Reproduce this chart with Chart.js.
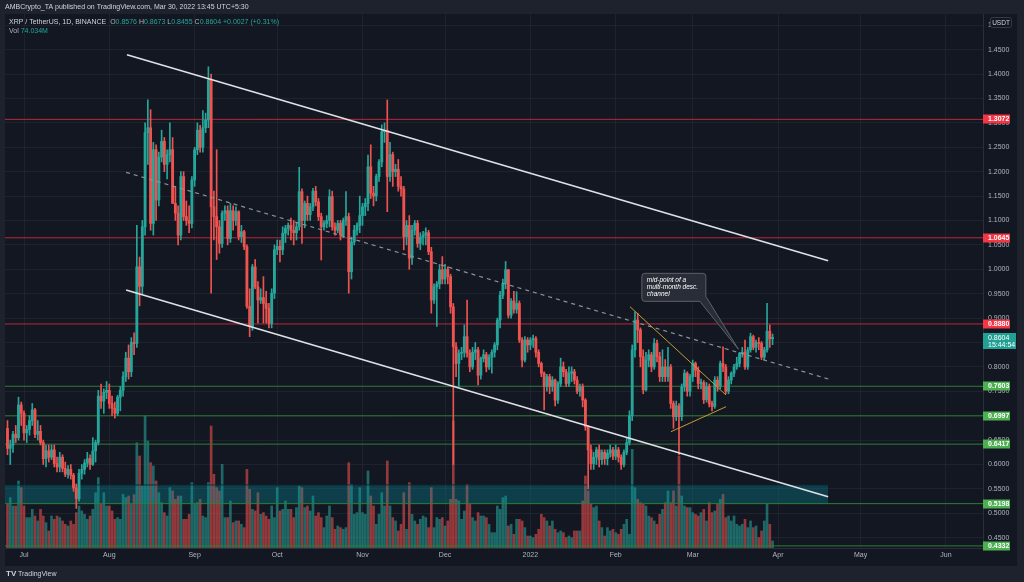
<!DOCTYPE html>
<html>
<head>
<meta charset="utf-8">
<script src="https://cdn.jsdelivr.net/npm/chart.js@4.4.0/dist/chart.umd.min.js"></script>
<style>
  html, body { margin: 0; padding: 0; background: #1e222d; }
  #wrap { width: 1024px; height: 582px; }
</style>
</head>
<body>
<div id="wrap"><canvas id="chart" width="1024" height="582"></canvas></div>
<script>
// XRP / TetherUS daily, Binance. Day 0 = 1 Jul 2021, first candle = 25 Jun 2021
// candles are [open, high, low, close]
const jun21 = [
  [.674,.690,.620,.633],[.633,.650,.600,.640],[.640,.668,.625,.662],[.662,.680,.645,.655],
  [.655,.738,.650,.722],[.722,.728,.680,.705]
];
const jul21 = [
  [.705,.710,.650,.665],[.665,.680,.645,.672],[.672,.700,.660,.690],[.690,.725,.680,.712],
  [.712,.715,.655,.662],[.662,.690,.650,.668],[.668,.680,.640,.645],[.645,.650,.600,.612],
  [.612,.640,.595,.628],[.628,.640,.605,.615],[.615,.640,.610,.630],[.630,.640,.595,.602],
  [.602,.615,.585,.595],[.595,.625,.585,.615],[.615,.620,.585,.592],[.592,.605,.575,.580],
  [.580,.598,.572,.590],[.590,.600,.570,.578],[.578,.582,.545,.552],[.552,.560,.510,.530],
  [.530,.590,.525,.582],[.582,.600,.570,.590],[.590,.610,.580,.603],[.603,.625,.595,.612],
  [.612,.620,.590,.600],[.600,.655,.598,.628],[.628,.650,.605,.645],[.645,.752,.640,.740],
  [.740,.765,.715,.730],[.730,.755,.705,.748],[.748,.770,.735,.752]
];
const aug21 = [
  [.752,.765,.715,.725],[.725,.740,.700,.715],[.715,.728,.695,.705],[.705,.742,.700,.738],
  [.738,.760,.710,.752],[.752,.790,.740,.780],[.780,.830,.770,.818],[.818,.845,.775,.790],
  [.790,.860,.780,.850],[.850,.870,.825,.848],[.848,1.090,.840,1.005],[1.005,1.025,.925,.965],
  [.965,1.100,.950,1.087],[1.087,1.300,1.070,1.280],[1.280,1.347,1.215,1.290],[1.290,1.327,1.080,1.094],
  [1.094,1.260,1.070,1.245],[1.245,1.255,1.100,1.142],[1.142,1.240,1.130,1.230],[1.230,1.285,1.220,1.262],
  [1.262,1.270,1.200,1.215],[1.215,1.245,1.185,1.235],[1.235,1.300,1.220,1.245],[1.245,1.270,1.135,1.135],
  [1.135,1.170,1.100,1.115],[1.115,1.130,1.050,1.070],[1.070,1.200,1.060,1.190],[1.190,1.200,1.100,1.108],
  [1.108,1.140,1.090,1.100],[1.100,1.130,1.075,1.094],[1.094,1.190,1.085,1.183]
];
const sep21 = [
  [1.183,1.250,1.170,1.245],[1.245,1.300,1.235,1.285],[1.285,1.295,1.240,1.250],[1.250,1.325,1.240,1.290],
  [1.290,1.320,1.280,1.306],[1.306,1.415,1.290,1.388],[1.388,1.400,.951,1.128],[1.128,1.160,1.060,1.108],
  [1.108,1.245,1.020,1.087],[1.087,1.100,1.033,1.053],[1.053,1.120,1.045,1.115],[1.115,1.130,1.100,1.120],
  [1.120,1.130,1.050,1.063],[1.063,1.135,1.055,1.120],[1.120,1.130,1.080,1.100],[1.100,1.128,1.090,1.118],
  [1.118,1.120,1.060,1.067],[1.067,1.090,1.055,1.077],[1.077,1.080,1.040,1.046],[1.046,1.050,.920,.924],
  [.924,.960,.862,.883],[.883,1.010,.875,1.005],[1.005,1.020,.960,.964],[.964,.975,.890,.937],
  [.937,.960,.930,.942],[.942,.985,.890,.930],[.930,.955,.890,.920],[.920,.930,.880,.889],
  [.889,.960,.880,.951],[.951,1.050,.940,1.040]
];
const oct21 = [
  [1.040,1.060,1.030,1.047],[1.047,1.060,1.015,1.040],[1.040,1.087,1.030,1.074],[1.074,1.090,1.055,1.084],
  [1.084,1.095,1.070,1.090],[1.090,1.105,1.060,1.080],[1.080,1.100,1.050,1.075],[1.075,1.095,1.060,1.087],
  [1.087,1.209,1.080,1.159],[1.159,1.165,1.053,1.100],[1.100,1.140,1.085,1.135],[1.135,1.150,1.100,1.112],
  [1.112,1.135,1.100,1.128],[1.128,1.166,1.120,1.160],[1.160,1.170,1.130,1.138],[1.138,1.145,1.100,1.108],
  [1.108,1.115,1.019,1.087],[1.087,1.100,1.080,1.094],[1.094,1.110,1.085,1.100],[1.100,1.163,1.087,1.149],
  [1.149,1.160,1.080,1.087],[1.087,1.095,1.070,1.080],[1.080,1.100,1.075,1.094],[1.094,1.100,1.060,1.070],
  [1.070,1.105,1.065,1.100],[1.100,1.159,1.090,1.108],[1.108,1.115,.951,.995],[.995,1.066,.980,1.056],
  [1.056,1.090,1.050,1.080],[1.080,1.095,1.070,1.090],[1.090,1.150,1.075,1.110]
];
const nov21 = [
  [1.110,1.135,1.090,1.128],[1.128,1.145,1.110,1.135],[1.135,1.234,1.120,1.210],[1.210,1.255,1.145,1.156],
  [1.156,1.170,1.130,1.150],[1.150,1.195,1.140,1.190],[1.190,1.225,1.180,1.220],[1.220,1.296,1.210,1.282],
  [1.282,1.300,1.260,1.285],[1.285,1.347,1.118,1.190],[1.190,1.260,1.180,1.235],[1.235,1.240,1.170,1.200],
  [1.200,1.215,1.190,1.205],[1.205,1.225,1.160,1.170],[1.170,1.190,1.150,1.165],[1.165,1.170,1.040,1.067],
  [1.067,1.100,1.050,1.090],[1.090,1.110,1.000,1.023],[1.023,1.090,1.010,1.080],[1.080,1.100,1.070,1.094],
  [1.094,1.100,1.045,1.053],[1.053,1.075,1.040,1.066],[1.066,1.078,1.050,1.070],[1.070,1.085,1.050,1.075],
  [1.075,1.080,1.030,1.036],[1.036,1.045,.910,.937],[.937,.970,.930,.964],[.964,.975,.883,.970],
  [.970,1.010,.960,.999],[.999,1.026,.970,.980]
];
const dec21 = [
  [.980,1.010,.970,1.000],[1.000,1.005,.970,.985],[.985,.990,.910,.923],[.923,.930,.600,.841],
  [.841,.850,.780,.807],[.807,.835,.760,.828],[.828,.840,.815,.830],[.830,.886,.820,.862],
  [.862,.937,.820,.828],[.828,.835,.790,.800],[.800,.840,.795,.830],[.830,.850,.815,.835],
  [.835,.840,.763,.783],[.783,.820,.775,.817],[.817,.835,.810,.825],[.825,.830,.790,.800],
  [.800,.825,.795,.820],[.820,.835,.787,.830],[.830,.850,.820,.845],[.845,.900,.835,.896],
  [.896,.955,.880,.947],[.947,.980,.940,.971],[.971,1.016,.960,.999],[.999,1.000,.900,.906],
  [.906,.940,.900,.935],[.935,.955,.910,.918],[.918,.954,.910,.930],[.930,.935,.850,.855],
  [.855,.860,.800,.814],[.814,.862,.810,.855],[.855,.860,.830,.845]
];
const jan22 = [
  [.845,.860,.835,.855],[.855,.865,.840,.858],[.858,.862,.820,.830],[.830,.835,.800,.807],
  [.807,.810,.780,.787],[.787,.790,.712,.760],[.760,.785,.750,.780],[.780,.785,.745,.760],
  [.760,.780,.750,.773],[.773,.775,.720,.732],[.732,.770,.725,.766],[.766,.818,.760,.800],
  [.800,.810,.780,.790],[.790,.795,.760,.766],[.766,.800,.760,.787],[.787,.800,.770,.790],
  [.790,.795,.765,.773],[.773,.780,.745,.750],[.750,.765,.740,.760],[.760,.765,.718,.732],
  [.732,.735,.670,.677],[.677,.680,.550,.630],[.630,.640,.590,.602],[.602,.625,.590,.615],
  [.615,.635,.600,.630],[.630,.640,.595,.610],[.610,.630,.600,.625],[.625,.630,.600,.612],
  [.612,.630,.599,.623],[.623,.640,.615,.630],[.630,.635,.610,.617]
];
const feb22 = [
  [.617,.640,.610,.630],[.630,.635,.605,.615],[.615,.620,.590,.600],[.600,.630,.595,.625],
  [.625,.655,.620,.645],[.645,.710,.640,.700],[.700,.845,.690,.835],[.835,.913,.820,.896],
  [.896,.910,.850,.876],[.876,.880,.800,.821],[.821,.835,.745,.753],[.753,.830,.750,.814],
  [.814,.835,.800,.825],[.825,.830,.790,.800],[.800,.858,.795,.848],[.848,.855,.810,.821],
  [.821,.830,.770,.780],[.780,.835,.770,.800],[.800,.815,.770,.780],[.780,.840,.770,.800],
  [.800,.805,.715,.725],[.725,.730,.674,.698],[.698,.730,.690,.720],[.720,.725,.620,.698],
  [.698,.765,.690,.759],[.759,.794,.750,.787],[.787,.790,.740,.750],[.750,.785,.740,.780]
];
const mar22 = [
  [.780,.814,.770,.807],[.807,.810,.780,.793],[.793,.800,.755,.766],[.766,.775,.755,.768],
  [.768,.772,.725,.733],[.733,.768,.728,.760],[.760,.765,.718,.725],[.725,.730,.710,.719],
  [.719,.780,.715,.773],[.773,.780,.750,.760],[.760,.812,.755,.807],[.807,.841,.790,.800],
  [.800,.805,.745,.750],[.750,.780,.745,.773],[.773,.790,.765,.787],[.787,.805,.780,.800],
  [.800,.820,.795,.807],[.807,.830,.800,.828],[.828,.840,.820,.830],[.830,.855,.795,.800],
  [.800,.840,.795,.835],[.835,.869,.830,.862],[.862,.865,.835,.840],[.840,.855,.830,.850],
  [.850,.860,.835,.848],[.848,.852,.815,.820],[.820,.840,.815,.835],[.835,.930,.830,.873],
  [.873,.886,.840,.8576],[.8576,.8673,.8455,.8604]
];

// daily volume, millions of XRP
const volJun21 = [459,529,441,441,704,634];
const volJul21 = [441,319,319,406,336,284,406,336,266,179,336,301,336,319,284,249,231,284,249,371,441,389,354,301,336,406,581,739,459,581,441];
const volAug21 = [441,389,301,319,301,564,529,546,459,560,1106,966,651,1386,1124,896,861,704,581,476,371,336,634,599,511,546,546,301,301,354,686];
const volSep21 = [459,476,511,336,319,686,1281,774,634,599,878,319,319,494,266,284,284,249,214,826,616,406,389,581,354,371,336,301,441,319];
const volOct21 = [634,389,406,494,406,406,319,424,651,634,424,441,389,546,336,371,319,214,336,441,319,196,231,214,196,214,896,669,354,371,634];
const volNov21 = [371,354,809,546,441,249,354,581,441,914,441,319,284,179,249,581,196,686,354,284,249,301,336,319,214,634,214,319,301,319];
const volDec21 = [231,284,511,1334,511,494,301,389,669,459,319,284,371,336,336,319,249,161,161,441,406,529,546,231,249,144,301,301,284,214,126];
const volJan22 = [126,109,144,196,354,319,284,231,284,196,161,179,161,109,126,109,179,179,179,494,756,599,459,424,441,284,214,126,214,179,196];
const volFeb22 = [161,144,196,249,301,144,1036,634,511,476,459,441,336,319,284,249,354,406,476,599,476,599,441,966,546,441,424,424];
const volMar22 = [371,354,336,371,406,284,476,371,389,459,511,564,319,336,284,336,249,231,249,301,214,284,214,231,109,179,284,459,249,74];

const firstDay = -6;
const monthTicks = [0, 31, 62, 92, 123, 153, 184, 215, 243, 274, 304, 335];
const monthLabels = ['Jul', 'Aug', 'Sep', 'Oct', 'Nov', 'Dec', '2022', 'Feb', 'Mar', 'Apr', 'May', 'Jun'];
const priceTicks = [0.45,0.50,0.55,0.60,0.65,0.70,0.75,0.80,0.85,0.90,0.95,1.00,1.05,1.10,1.15,1.20,1.25,1.30,1.35,1.40,1.45,1.50];

const resistanceLevels = [1.3072, 1.0645, 0.8880];
const supportLevels = [0.7603, 0.6997, 0.6417, 0.5198, 0.4332];
const demandZone = [0.5198, 0.5580];
const lastPrice = 0.8604;

// trend drawings: [[day, price], [day, price]]
const channelTop = [[37.4, 1.4397], [292.2, 1.0174]];
const channelMid = [[37.1, 1.1987], [292.3, 0.7752]];
const channelBottom = [[37.1, 0.9576], [292.2, 0.5340]];
const wedgeTop = [[220.2, 0.9233], [255.1, 0.7424]];
const wedgeBottom = [[235.1, 0.6672], [255.1, 0.7184]];
const zoneEnd = 292.2;

const X_MIN = -6.904, X_MAX = 348.47;
const Y_MIN = 0.4289, Y_MAX = 1.5231;

const UP = '#26a69a', DOWN = '#ef5350';
const UP_VOL = 'rgba(38,166,154,0.58)', DOWN_VOL = 'rgba(239,83,80,0.58)';
const FONT = "'Liberation Sans', Arial, sans-serif";

const candles = [].concat(jun21, jul21, aug21, sep21, oct21, nov21, dec21, jan22, feb22, mar22);
const volumes = [].concat(volJun21, volJul21, volAug21, volSep21, volOct21, volNov21, volDec21, volJan22, volFeb22, volMar22);
const isUp = candles.map(c => c[3] >= c[0]);

const seg = (pts) => pts.map(p => ({ x: p[0], y: p[1] }));
const hline = (v) => [{ x: X_MIN, y: v }, { x: X_MAX, y: v }];

const lineDs = (data, color, width, extra) => Object.assign({
  type: 'line', data, borderColor: color, borderWidth: width,
  pointRadius: 0, fill: false, tension: 0
}, extra || {});

const datasets = [
  lineDs(seg(wedgeTop), 'rgba(200,164,48,0.95)', 1, { order: 0 }),
  lineDs(seg(wedgeBottom), 'rgba(200,164,48,0.95)', 1, { order: 0 }),
  lineDs(seg(channelTop), '#dfe1e6', 1.7, { order: 1 }),
  lineDs(seg(channelBottom), '#dfe1e6', 1.7, { order: 1 }),
  lineDs(seg(channelMid), '#8e9199', 1.2, { order: 1, borderDash: [4, 4] }),
  {
    type: 'bar', label: 'body', order: 3, grouped: false,
    data: candles.map((c, i) => ({ x: firstDay + i, y: [c[0], c[3]] })),
    backgroundColor: isUp.map(u => u ? UP : DOWN),
    barThickness: 2.2, minBarLength: 1, borderWidth: 0
  },
  {
    type: 'bar', label: 'wick', order: 4, grouped: false,
    data: candles.map((c, i) => ({ x: firstDay + i, y: [c[2], c[1]] })),
    backgroundColor: isUp.map(u => u ? UP : DOWN),
    barThickness: 1, borderWidth: 0
  }
];
resistanceLevels.forEach(v => datasets.push(lineDs(hline(v), '#b8283a', 1, { order: 5 })));
supportLevels.forEach(v => datasets.push(lineDs(hline(v), '#2f7d36', 1, { order: 5 })));
datasets.push(lineDs([{ x: X_MIN, y: demandZone[1] }, { x: zoneEnd, y: demandZone[1] }], 'rgba(10,40,50,0.9)', 1, {
  order: 6, fill: { value: demandZone[0] }, backgroundColor: 'rgba(0,151,167,0.3)'
}));
datasets.push({
  type: 'bar', label: 'volume', order: 7, grouped: false, yAxisID: 'yv',
  data: volumes.map((v, i) => ({ x: firstDay + i, y: v })),
  backgroundColor: isUp.map(u => u ? UP_VOL : DOWN_VOL),
  barThickness: 2, borderWidth: 0
});

const frame = {
  id: 'frame',
  beforeDraw(chart) {
    const ctx = chart.ctx;
    ctx.save();
    ctx.fillStyle = '#1e222d';
    ctx.fillRect(0, 0, chart.width, chart.height);
    ctx.fillStyle = '#131722';
    ctx.fillRect(5, 14, 1012, 552);
    ctx.restore();
  }
};

const overlay = {
  id: 'overlay',
  afterDraw(chart) {
    const ctx = chart.ctx;
    const xs = chart.scales.x, ys = chart.scales.y;
    const area = chart.chartArea;
    ctx.save();

    // right axis labels
    const tag = (v, bg) => {
      const y = Math.round(ys.getPixelForValue(v));
      ctx.fillStyle = bg;
      ctx.fillRect(area.right, y - 4.5, 27, 9);
      ctx.fillStyle = '#ffffff';
      ctx.font = 'bold 7px ' + FONT;
      ctx.textBaseline = 'middle';
      ctx.textAlign = 'left';
      ctx.fillText(v.toFixed(4), area.right + 5, y + 0.5);
    };
    resistanceLevels.forEach(v => tag(v, '#f23645'));
    supportLevels.forEach(v => tag(v, '#4caf50'));

    const ly = Math.round(ys.getPixelForValue(lastPrice));
    ctx.fillStyle = '#22a094';
    ctx.fillRect(area.right, ly - 4, 33, 16);
    ctx.fillStyle = '#ffffff';
    ctx.font = '7px ' + FONT;
    ctx.fillText(lastPrice.toFixed(4), area.right + 5, ly + 1);
    ctx.fillText('15:44:54', area.right + 5, ly + 8);

    // currency button
    ctx.fillStyle = '#131722';
    ctx.strokeStyle = '#363a45';
    ctx.lineWidth = 1;
    ctx.beginPath();
    ctx.roundRect(990.5, 17.5, 21, 10, 2);
    ctx.fill();
    ctx.stroke();
    ctx.fillStyle = '#d1d4dc';
    ctx.font = '6.5px ' + FONT;
    ctx.textAlign = 'center';
    ctx.fillText('USDT', 1001, 23);

    // header
    ctx.textAlign = 'left';
    ctx.textBaseline = 'middle';
    ctx.font = '7px ' + FONT;
    ctx.fillStyle = '#d1d4dc';
    ctx.fillText('AMBCrypto_TA published on TradingView.com, Mar 30, 2022 13:45 UTC+5:30', 5, 7.5);
    let x = 9;
    const put = (t, c) => { ctx.fillStyle = c; ctx.fillText(t, x, 22.5); x += ctx.measureText(t).width; };
    put('XRP / TetherUS, 1D, BINANCE  ', '#d1d4dc');
    put('O', '#b2b5be'); put('0.8576 ', UP);
    put('H', '#b2b5be'); put('0.8673 ', UP);
    put('L', '#b2b5be'); put('0.8455 ', UP);
    put('C', '#b2b5be'); put('0.8604 +0.0027 (+0.31%)', UP);
    ctx.fillStyle = '#b2b5be';
    ctx.fillText('Vol', 9, 31.5);
    ctx.fillStyle = UP;
    ctx.fillText('74.034M', 9 + ctx.measureText('Vol ').width, 31.5);

    // callout
    const tx = xs.getPixelForValue(259.6), ty = ys.getPixelForValue(0.836);
    const bx = xs.getPixelForValue(224.5), by = ys.getPixelForValue(0.9917);
    const bw = 64, bh = 28, r = 3;
    ctx.beginPath();
    ctx.moveTo(bx + r, by);
    ctx.arcTo(bx + bw, by, bx + bw, by + bh, r);
    ctx.lineTo(bx + bw, by + bh - 5);
    ctx.lineTo(tx, ty);
    ctx.lineTo(bx + bw - 6, by + bh);
    ctx.arcTo(bx, by + bh, bx, by, r);
    ctx.arcTo(bx, by, bx + bw, by, r);
    ctx.closePath();
    ctx.fillStyle = 'rgba(42,46,57,0.95)';
    ctx.fill();
    ctx.strokeStyle = '#5d606b';
    ctx.lineWidth = 1;
    ctx.stroke();
    ctx.fillStyle = '#ffffff';
    ctx.font = 'italic 6.5px ' + FONT;
    ctx.textAlign = 'left';
    ['mid-point of a', 'multi-month desc.', 'channel'].forEach((t, i) => ctx.fillText(t, bx + 5, by + 7 + i * 6.7));

    // footer logo
    ctx.fillStyle = '#d1d4dc';
    ctx.font = 'bold 8px ' + FONT;
    ctx.fillText('TV', 6, 574);
    ctx.font = '7px ' + FONT;
    ctx.fillText('TradingView', 18, 574);
    ctx.restore();
  }
};

new Chart(document.getElementById('chart'), {
  type: 'bar',
  data: { datasets },
  options: {
    responsive: false,
    animation: false,
    devicePixelRatio: 1,
    layout: { padding: { left: 5, top: 14, right: 7, bottom: 16 } },
    plugins: { legend: { display: false }, tooltip: { enabled: false } },
    scales: {
      x: {
        type: 'linear', min: X_MIN, max: X_MAX, offset: false,
        afterBuildTicks: s => { s.ticks = monthTicks.map(v => ({ value: v })); },
        afterFit: s => { s.height = 18; },
        ticks: {
          autoSkip: false, maxRotation: 0, padding: 3, color: '#b2b5be',
          font: { size: 7, family: FONT },
          callback: v => monthLabels[monthTicks.indexOf(v)]
        },
        grid: { color: 'rgba(54,58,69,0.3)', drawTicks: false, offset: false },
        border: { display: true, color: '#2a2e39' }
      },
      y: {
        type: 'linear', position: 'right', min: Y_MIN, max: Y_MAX,
        afterBuildTicks: s => { s.ticks = priceTicks.map(v => ({ value: v })); },
        afterFit: s => { s.width = 34; },
        ticks: {
          padding: 5, color: '#b2b5be', font: { size: 7, family: FONT },
          callback: v => v.toFixed(4)
        },
        grid: { color: 'rgba(54,58,69,0.3)', drawTicks: false },
        border: { display: true, color: '#2a2e39' }
      },
      yv: { display: false, min: 0, max: 5607 }
    }
  },
  plugins: [frame, overlay]
});
</script>
</body>
</html>
